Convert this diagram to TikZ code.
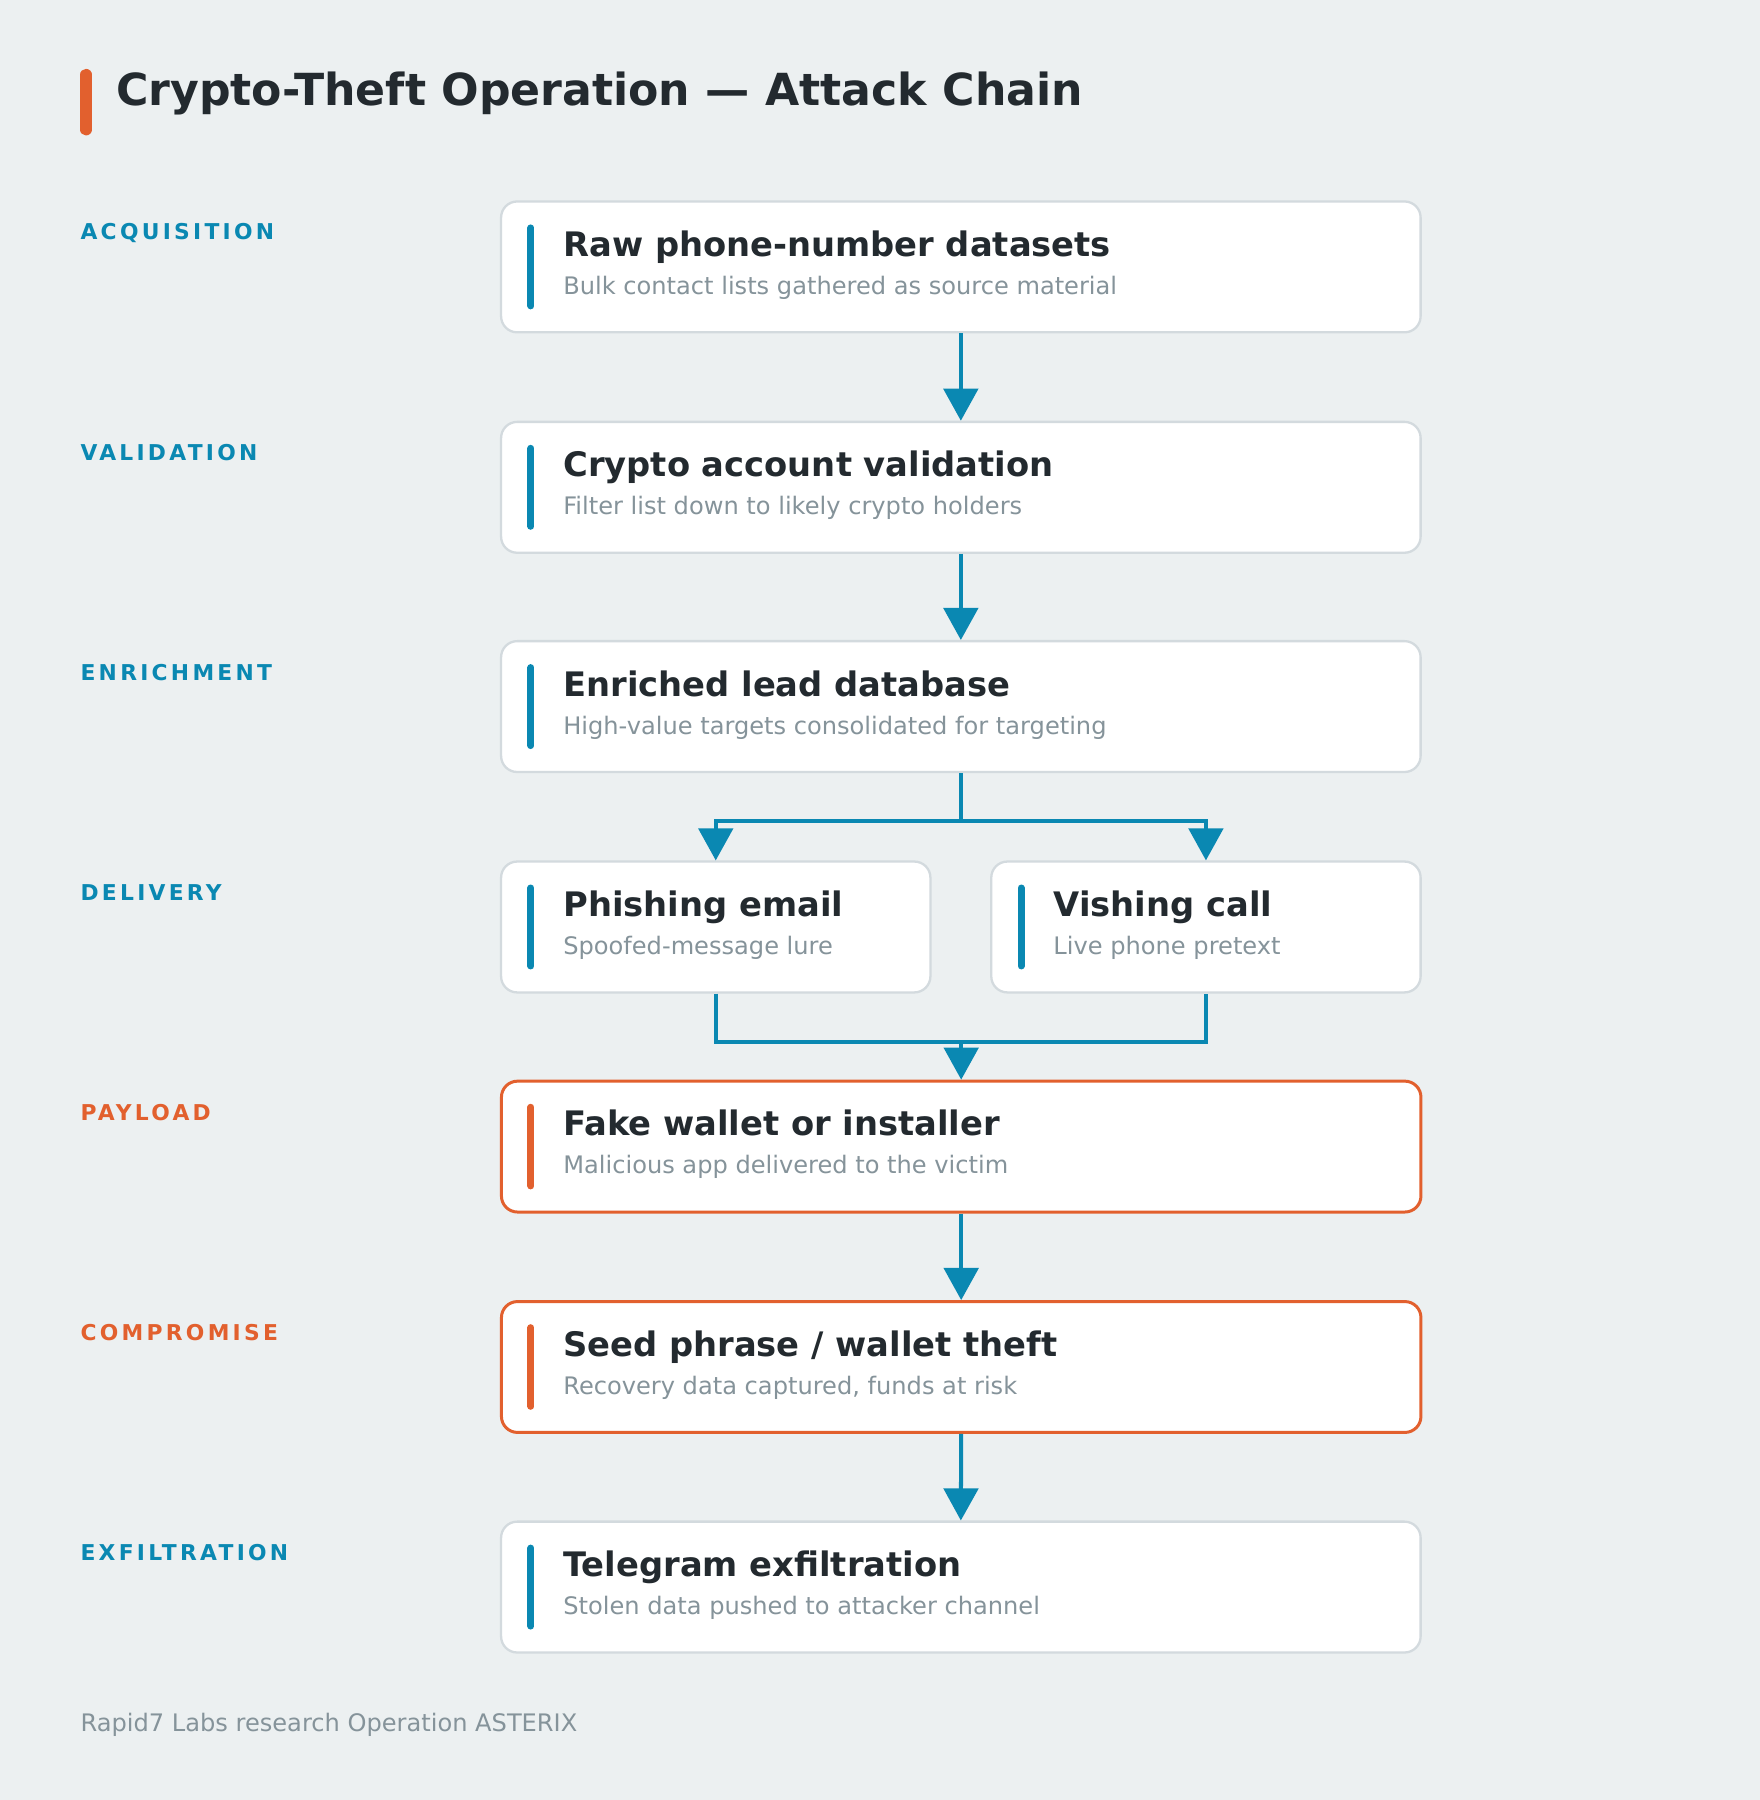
\documentclass[tikz,border=0pt]{standalone}
\usepackage{fontspec}
\setmainfont{DejaVu Sans}
\newfontfamily\stagefont{DejaVu Sans}[LetterSpace=15]
\usetikzlibrary{arrows.meta,calc}
\definecolor{bgc}{HTML}{ECF0F1}
\definecolor{ink}{HTML}{232A2F}
\definecolor{accblue}{HTML}{0A88B2}
\definecolor{accorange}{HTML}{E2602E}
\definecolor{subgray}{HTML}{85939A}
\definecolor{bordergray}{HTML}{D3DADE}
\tikzset{
  box/.style={draw=bordergray, line width=2pt, fill=white, rounded corners=14pt, minimum height=114pt, inner sep=0pt},
  hot/.style={draw=accorange, line width=2.6pt},
  accbar/.style={line width=6pt, line cap=round},
  ttl/.style={inner sep=0pt, text=ink, font=\fontsize{29.4}{34}\selectfont\bfseries},
  sub/.style={inner sep=0pt, text=subgray, font=\fontsize{21}{25}\selectfont},
  stage/.style={inner sep=0pt, anchor=base west, font=\fontsize{19}{22}\selectfont\stagefont\bfseries},
  conn/.style={draw=accblue, line width=3.5pt, -{Triangle[length=28pt,width=30pt]}},
  wire/.style={draw=accblue, line width=3.5pt},
}
\newcommand\rowbox[8]{%
  \node[box,#6,minimum width=#4,anchor=north west] (#1) at (#2,#3) {};
  \draw[accbar,#5] ([xshift=27pt,yshift=-24pt]#1.north west) -- ([xshift=27pt,yshift=24pt]#1.south west);
  \node[ttl,anchor=base west] (#1t) at ([xshift=55pt,yshift=-49pt]#1.north west) {#7};
  \node[sub,anchor=base west] (#1s) at ([xshift=55pt,yshift=-82pt]#1.north west) {#8};
}
\begin{document}
\begin{tikzpicture}[x=1pt,y=-1pt]
\fill[bgc] (0,0) rectangle (1533,1568);
\useasboundingbox (0,0) rectangle (1533,1568);
% title
\draw[accorange, line width=10pt, line cap=round] (75,65) -- (75,113);
\node[inner sep=0pt, anchor=base west, text=ink, font=\fontsize{38.5}{44}\selectfont\bfseries] (title) at (101,92) {Crypto-Theft Operation — Attack Chain};
% stage labels
\node[stage,text=accblue] (s1) at (70,209) {ACQUISITION};
\node[stage,text=accblue] (s2) at (70,401) {VALIDATION};
\node[stage,text=accblue] (s3) at (70,593) {ENRICHMENT};
\node[stage,text=accblue] (s4) at (70,784) {DELIVERY};
\node[stage,text=accorange] (s5) at (70,976) {PAYLOAD};
\node[stage,text=accorange] (s6) at (70,1168) {COMPROMISE};
\node[stage,text=accblue] (s7) at (70,1359) {EXFILTRATION};
% boxes
\rowbox{b1}{435.5}{174.5}{801}{accblue}{}{Raw phone-number datasets}{Bulk contact lists gathered as source material}
\rowbox{b2}{435.5}{366.5}{801}{accblue}{}{Crypto account validation}{Filter list down to likely crypto holders}
\rowbox{b3}{435.5}{557.5}{801}{accblue}{}{Enriched lead database}{High-value targets consolidated for targeting}
\rowbox{d1}{435.5}{749.5}{374}{accblue}{}{Phishing email}{Spoofed-message lure}
\rowbox{d2}{862.5}{749.5}{374}{accblue}{}{Vishing call}{Live phone pretext}
\rowbox{b5}{435.5}{940.5}{801}{accorange}{hot}{Fake wallet or installer}{Malicious app delivered to the victim}
\rowbox{b6}{435.5}{1132.5}{801}{accorange}{hot}{Seed phrase / wallet theft}{Recovery data captured, funds at risk}
\rowbox{b7}{435.5}{1324.5}{801}{accblue}{}{Telegram exfiltration}{Stolen data pushed to attacker channel}
% connectors
\draw[conn] (b1.south) -- (b2.north);
\draw[conn] (b2.south) -- (b3.north);
\coordinate (split) at ([yshift=-42pt]b3.south);
\draw[wire] (b3.south) -- (split);
\draw[conn] (split) -| (d1.north);
\draw[conn] (split) -| (d2.north);
\coordinate (join) at ([yshift=-42pt]d1.south);
\draw[wire] (d1.south) -- (join) -| (d2.south);
\draw[conn] (join -| b5.north) -- (b5.north);
\draw[conn] (b5.south) -- (b6.north);
\draw[conn] (b6.south) -- (b7.north);
% footer
\node[inner sep=0pt, anchor=base west, text=subgray, font=\fontsize{21}{25}\selectfont] (foot) at (70,1508) {Rapid7 Labs research Operation ASTERIX};
\end{tikzpicture}
\end{document}
